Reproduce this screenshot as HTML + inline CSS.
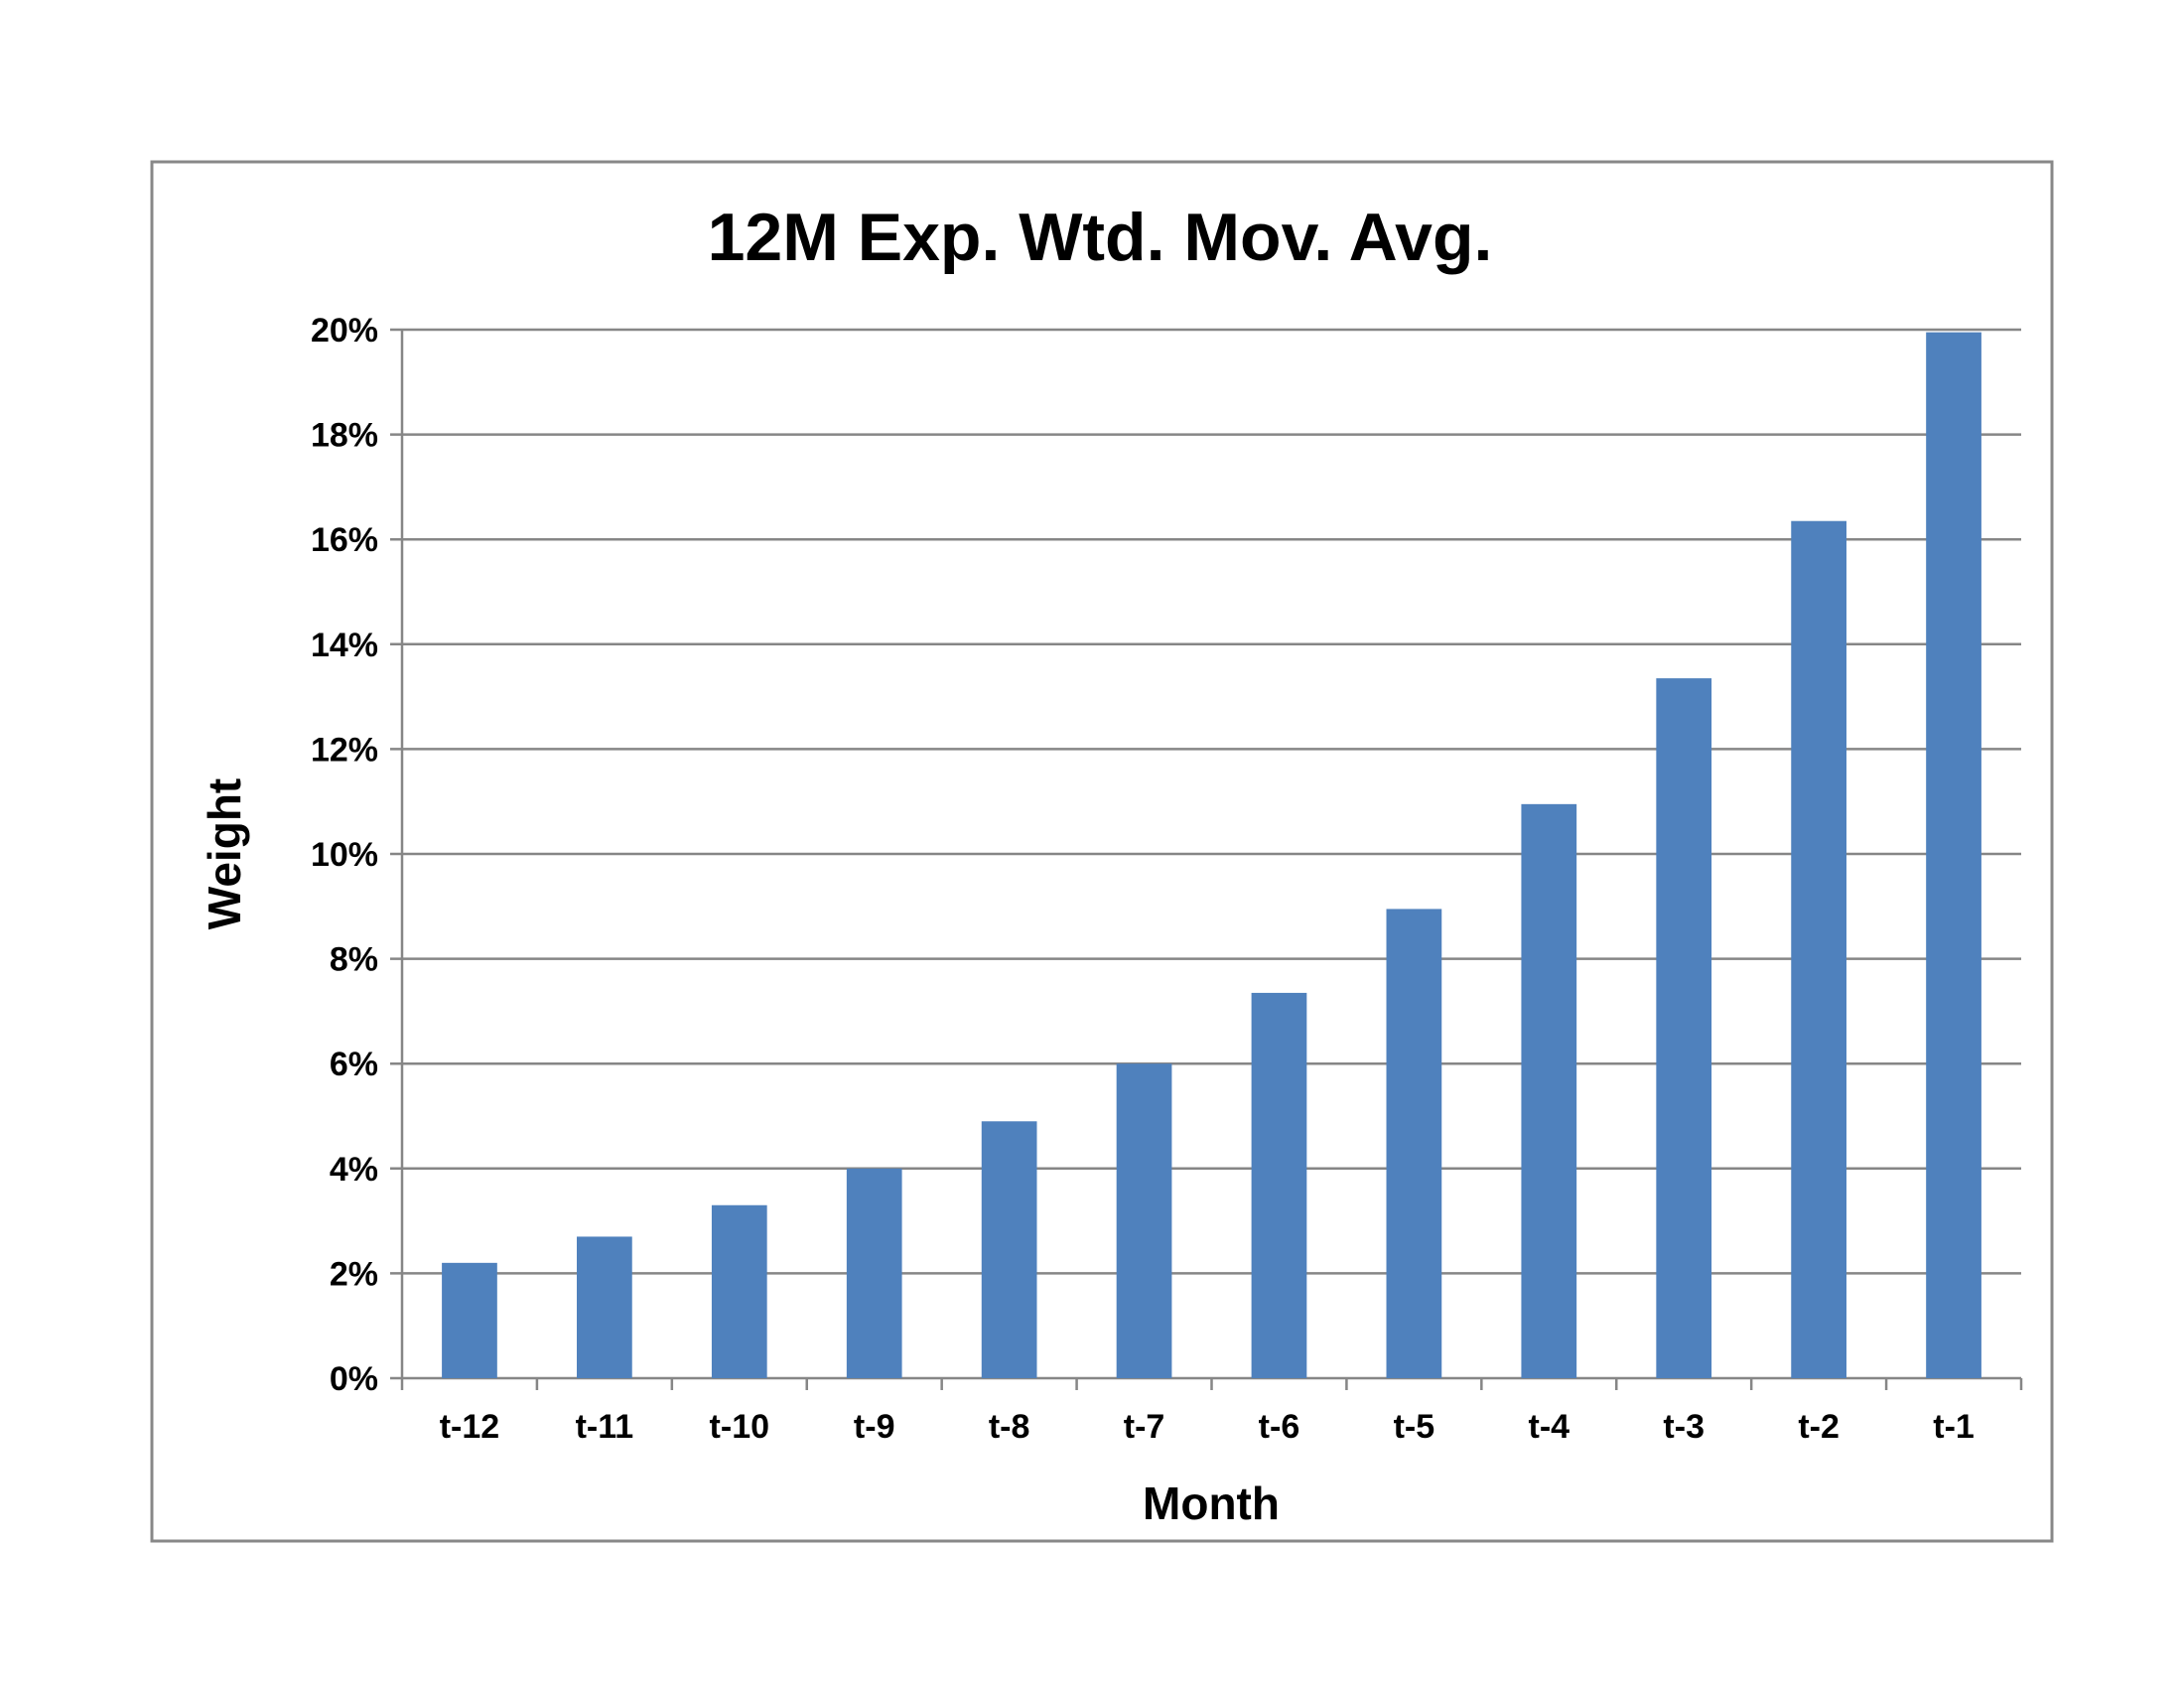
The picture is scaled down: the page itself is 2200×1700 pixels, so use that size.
<!DOCTYPE html>
<html><head><meta charset="utf-8"><style>
html,body{margin:0;padding:0;background:#fff;}
svg{display:block;}
text{font-family:"Liberation Sans",sans-serif;font-weight:bold;fill:#000;}
</style></head><body>
<svg id="chart" width="2200" height="1700" viewBox="0 0 2200 1700" xmlns="http://www.w3.org/2000/svg">
<rect x="153" y="163" width="1914" height="1389" fill="#fff" stroke="#888" stroke-width="3"/>
<text x="1108" y="262" font-size="68" text-anchor="middle">12M Exp. Wtd. Mov. Avg.</text>
<g id="grid"></g>
<g id="yticks"></g>
<g id="bars"></g>
<g id="xticks"></g>
<text transform="translate(242,860) rotate(-90)" font-size="46" text-anchor="middle">Weight</text>
<text x="1220" y="1530" font-size="46" text-anchor="middle">Month</text>
</svg>
<script>
const categories=["t-12","t-11","t-10","t-9","t-8","t-7","t-6","t-5","t-4","t-3","t-2","t-1"];
const values=[2.2,2.7,3.3,4.0,4.9,6.0,7.35,8.95,10.95,13.35,16.35,19.95];
const yTicks=[0,2,4,6,8,10,12,14,16,18,20];
const NS="http://www.w3.org/2000/svg";
const L=405,R=2036,T=332,B=1388,yMax=20;
const y=v=>B-(v/yMax)*(B-T);
const cw=(R-L)/categories.length;
const x=i=>L+cw*(i+0.5);
function mk(tag,attrs,parent){const e=document.createElementNS(NS,tag);for(const k in attrs)e.setAttribute(k,attrs[k]);document.getElementById(parent).appendChild(e);return e;}
yTicks.forEach(t=>{
 const g=mk("line",{x1:L-12,x2:R,y1:y(t),y2:y(t),stroke:"#868686","stroke-width":2.5},"grid");
 
 
 const tx=mk("text",{x:L-24,y:y(t)+12,"font-size":34,"text-anchor":"end"},"yticks");
 tx.textContent=t+"%";
 
 
});
mk("line",{x1:L,x2:L,y1:T,y2:B,stroke:"#868686","stroke-width":2.5},"grid");
const bw=cw*0.41;
values.forEach((v,i)=>{
 const r=mk("rect",{x:x(i)-bw/2,y:y(v),width:bw,height:B-y(v),fill:"#4f81bd"},"bars");
 
 
});
for(let i=0;i<=categories.length;i++){
 const tk=mk("line",{x1:L+cw*i,x2:L+cw*i,y1:B,y2:B+12,stroke:"#868686","stroke-width":2.5},"xticks");
 
 
}
categories.forEach((c,i)=>{
 const tx=mk("text",{x:x(i),y:B+60,"font-size":34,"text-anchor":"middle"},"xticks");
 tx.textContent=c;
 
 
});
</script>
</body></html>
